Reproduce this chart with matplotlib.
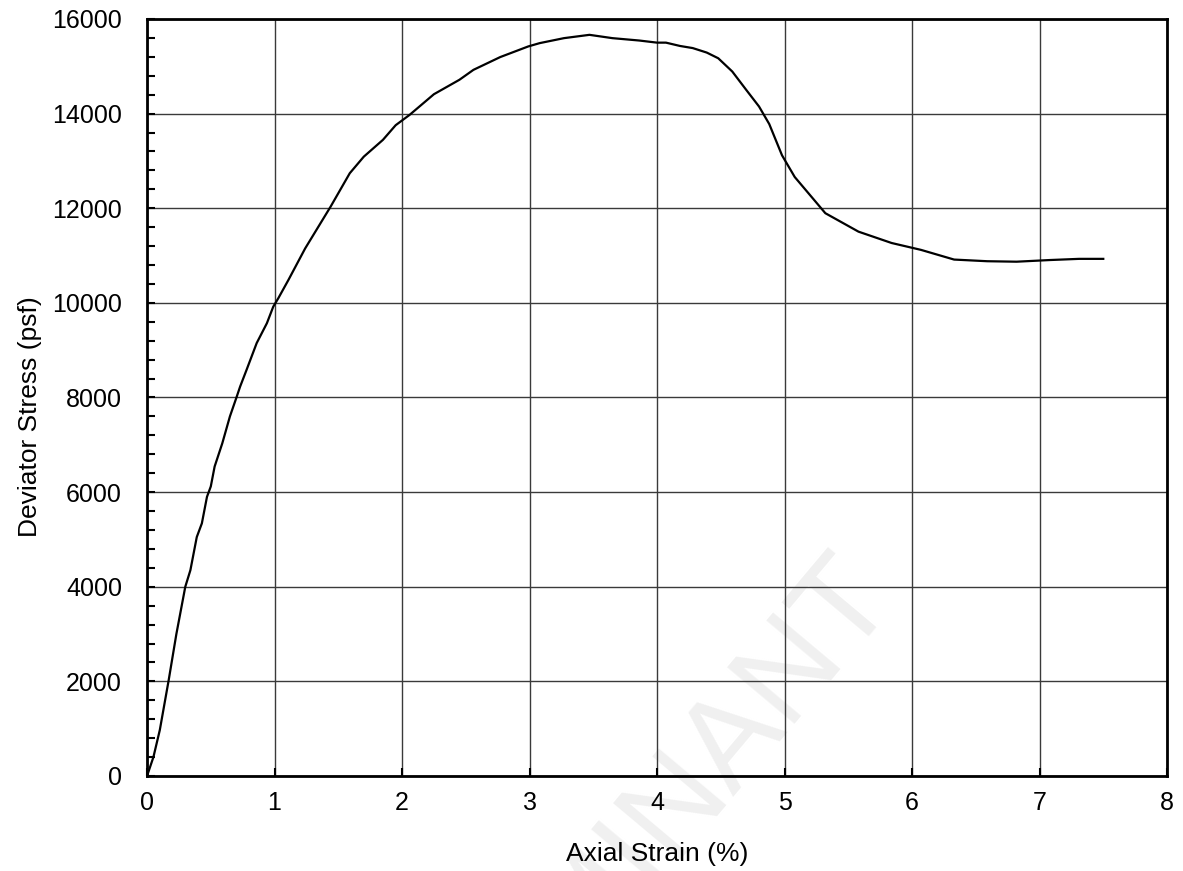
import matplotlib
matplotlib.use("Agg")
import matplotlib.pyplot as plt
from matplotlib.ticker import MultipleLocator

plt.rcParams['font.family'] = ['Liberation Sans', 'DejaVu Sans']

# axial strain (%) and deviator stress (psf)
strain = [0.0, 0.05, 0.10, 0.17, 0.23, 0.30, 0.34, 0.39, 0.43, 0.47, 0.50,
          0.53, 0.59, 0.65, 0.70, 0.73, 0.78, 0.86, 0.94, 0.99, 1.03, 1.11,
          1.24, 1.44, 1.59, 1.70, 1.85, 1.95, 2.06, 2.25, 2.45, 2.56, 2.77,
          2.99, 3.08, 3.27, 3.47, 3.65, 3.86, 4.00, 4.07, 4.18, 4.28, 4.39,
          4.48, 4.59, 4.70, 4.80, 4.88, 4.98, 5.08, 5.32, 5.58, 5.84, 6.07,
          6.33, 6.59, 6.82, 7.08, 7.31, 7.50]
stress = [0, 400, 970, 2030, 3000, 4000, 4350, 5050, 5340, 5900, 6120,
          6540, 7030, 7600, 7990, 8230, 8580, 9150, 9570, 9920, 10100, 10490,
          11150, 12035, 12740, 13090, 13445, 13755, 13975, 14410, 14715, 14925, 15195,
          15420, 15490, 15595, 15665, 15595, 15545, 15500, 15500, 15430, 15385, 15290,
          15170, 14890, 14500, 14150, 13780, 13120, 12660, 11895, 11505, 11265, 11120,
          10915, 10880, 10870, 10905, 10930, 10930]

x_ticks = [0, 1, 2, 3, 4, 5, 6, 7, 8]
y_ticks = [0, 2000, 4000, 6000, 8000, 10000, 12000, 14000, 16000]

fig = plt.figure(figsize=(11.83, 8.71), dpi=100)
ax = fig.add_axes([0.1243, 0.1091, 0.8622, 0.8691])
ax.set_facecolor('none')

# faint watermark behind everything, mostly cut off at the bottom
fig.text(0.55, 0.045, "DOMINANT", fontsize=92, color='#f0f0f0', rotation=50,
         ha='center', va='center', zorder=-1)

ax.plot(strain, stress, color='black', lw=1.6, zorder=3)

ax.set_xlim(0, 8)
ax.set_ylim(0, 16000)
ax.set_xticks(x_ticks)
ax.set_yticks(y_ticks)
ax.yaxis.set_minor_locator(MultipleLocator(400))
ax.grid(True, which='major', color='#3a3a3a', lw=1.0)

ax.tick_params(which='both', direction='in', labelsize=18, top=False, right=False)
ax.tick_params(axis='x', which='major', length=6, width=1.5, pad=11)
ax.tick_params(axis='y', which='major', length=6, width=1.5, pad=18)
ax.tick_params(axis='y', which='minor', length=6, width=1.5)

for s in ax.spines.values():
    s.set_linewidth(2)

ax.set_xlabel("Axial Strain (%)", fontsize=19, labelpad=19)
ax.set_ylabel("Deviator Stress (psf)", fontsize=19)
ax.yaxis.set_label_coords(-0.103, 0.475)

fig.savefig("out.png", dpi=100)
